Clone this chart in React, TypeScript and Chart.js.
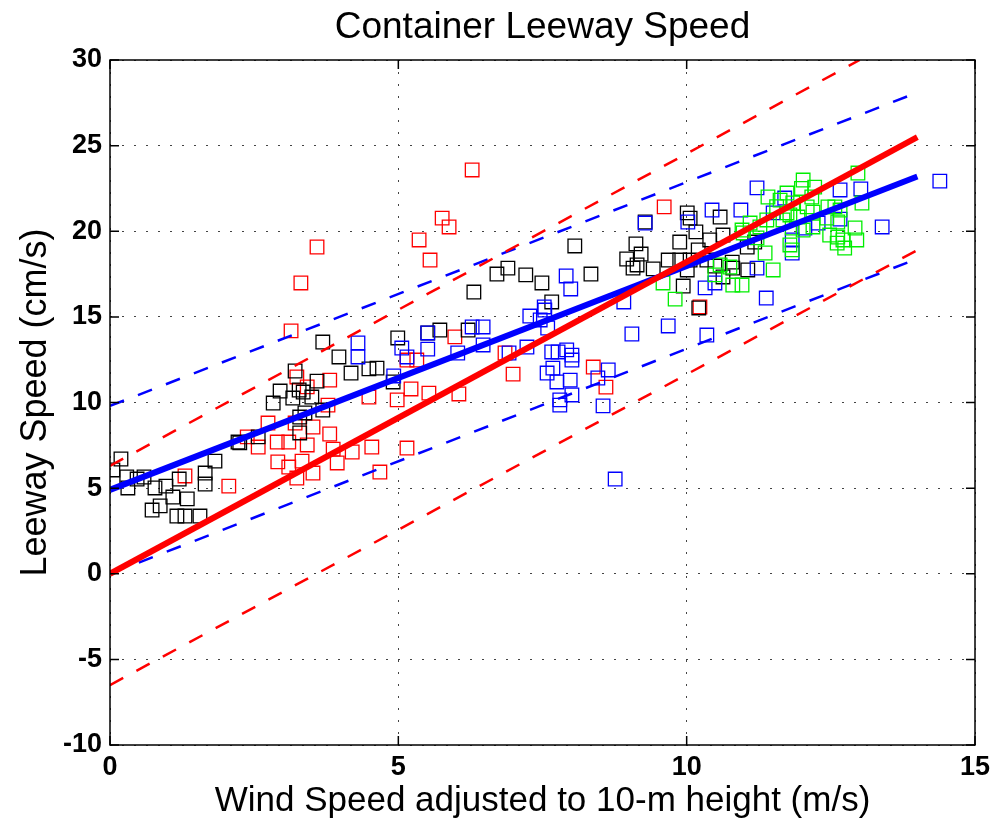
import React, { useEffect, useRef } from 'react';
import { Chart, registerables } from 'chart.js';

Chart.register(...registerables);

const chartTitle = 'Container Leeway Speed';
const xTitle = 'Wind Speed adjusted to 10-m height (m/s)';
const yTitle = 'Leeway Speed (cm/s)';

const xTickValues = [0, 5, 10, 15];
const yTickValues = [-10, -5, 0, 5, 10, 15, 20, 25, 30];

const blackPoints: [number, number][] = [
  [0.05, 6.06], [0.19, 6.7], [0.29, 5.65], [0.47, 5.53], [0.59, 5.65], [0.31, 5.01], [0.78, 5.01],
  [0.97, 5.12], [1.2, 5.53], [1.65, 5.88], [1.82, 6.58], [1.65, 5.24], [1.09, 4.48], [1.34, 4.37],
  [0.73, 3.72], [0.87, 3.96], [1.16, 3.37], [1.3, 3.37], [1.56, 3.37], [2.22, 7.69], [2.57, 7.99],
  [2.25, 7.64], [3.69, 13.53], [3.97, 12.66], [4.18, 11.72], [4.49, 11.96], [4.63, 12.01], [4.99, 13.77],
  [5.51, 14.06], [4.91, 11.2], [3.21, 11.84], [3.59, 11.25], [2.95, 10.67], [2.83, 9.97], [3.17, 10.26],
  [3.35, 10.61], [3.5, 10.32], [3.28, 10.73], [3.38, 9.39], [3.29, 9.15], [3.69, 9.56], [3.29, 8.22],
  [8.06, 19.14], [6.71, 17.5], [6.9, 17.85], [7.21, 17.45], [7.49, 16.98], [8.34, 17.5], [6.31, 16.45],
  [7.66, 15.87], [5.72, 14.23], [6.21, 14.23], [9.28, 20.54], [10.01, 21.07], [10.06, 20.77],
  [10.58, 20.83], [10.16, 19.96], [10.63, 19.78], [9.12, 19.26], [9.21, 18.67], [8.96, 18.38],
  [9.14, 18.03], [9.07, 17.85], [9.42, 17.8], [9.68, 18.32], [9.88, 19.37], [9.88, 18.32], [10.06, 18.32],
  [10.2, 18.91], [10.4, 19.49], [10.35, 18.32], [10.01, 17.74], [9.94, 16.8], [10.79, 18.2], [10.8, 17.85],
  [10.63, 17.33], [10.49, 17.97], [11.06, 17.74], [11.05, 19.08], [11.18, 19.37], [10.21, 15.52],
];

const redPoints: [number, number][] = [
  [6.28, 23.58], [5.76, 20.77], [5.88, 20.25], [5.36, 19.49], [5.55, 18.32], [3.59, 19.08], [3.31, 16.98],
  [3.14, 14.18], [3.81, 11.31], [3.24, 11.49], [3.42, 10.91], [3.78, 9.85], [4.49, 10.32], [4.98, 10.15],
  [5.22, 10.79], [5.53, 10.55], [5.15, 12.48], [5.32, 12.48], [2.74, 8.8], [3.21, 8.8], [3.52, 8.57],
  [2.38, 7.99], [2.9, 7.69], [3.1, 7.69], [3.42, 7.52], [2.57, 7.4], [3.81, 8.16], [3.87, 7.28], [4.2, 7.11],
  [4.54, 7.4], [5.15, 7.34], [3.1, 6.23], [3.33, 6.58], [3.94, 6.47], [4.68, 5.94], [3.52, 5.88], [3.24, 5.59],
  [1.3, 5.71], [2.06, 5.12], [2.91, 6.53], [5.98, 13.83], [6.85, 12.89], [6.99, 11.66], [6.05, 10.5],
  [8.38, 12.07], [8.6, 10.9], [9.61, 21.42], [10.23, 15.58],
];

const bluePoints: [number, number][] = [
  [4.3, 13.48], [4.3, 12.66], [5.06, 13.18], [5.15, 12.66], [5.51, 14.06], [5.51, 13.12], [4.92, 11.55],
  [7.91, 17.39], [7.99, 16.63], [7.53, 15.58], [7.28, 15.05], [7.46, 14.82], [7.54, 15.4], [7.59, 14.35],
  [6.47, 14.41], [6.28, 14.41], [6.47, 13.36], [6.03, 12.89], [6.92, 12.89], [7.23, 13.24], [7.66, 12.95],
  [7.77, 12.95], [7.92, 13.07], [8.01, 12.77], [8.01, 12.48], [7.58, 11.72], [7.68, 12.01], [7.75, 11.2],
  [7.98, 11.31], [8.01, 10.44], [7.8, 10.15], [7.8, 9.85], [8.64, 11.9], [8.46, 11.43], [8.55, 9.8],
  [8.76, 5.53], [9.28, 20.48], [10.02, 20.54], [10.44, 21.24], [10.94, 21.24], [11.22, 22.53], [11.7, 21.94],
  [11.22, 17.85], [10.32, 16.69], [10.49, 16.98], [11.38, 16.1], [9.68, 14.47], [9.05, 14.0], [10.35, 13.94],
  [8.91, 15.87], [11.83, 19.49], [11.83, 18.73], [11.5, 21.07], [14.39, 22.93], [12.66, 22.41], [13.02, 22.47],
  [12.66, 20.71], [12.28, 20.48], [12.05, 20.19], [13.39, 20.25],
];

const greenPoints: [number, number][] = [
  [11.74, 22.23], [11.41, 22.0], [11.56, 21.43], [11.99, 22.5], [11.79, 20.95], [11.1, 20.48], [10.96, 20.07],
  [10.98, 19.9], [11.22, 19.61], [11.36, 18.73], [11.5, 17.74], [10.75, 17.91], [10.58, 18.03], [10.49, 17.45],
  [10.8, 16.86], [10.96, 16.86], [9.59, 16.98], [9.8, 16.04], [11.83, 18.91], [11.67, 20.66], [11.39, 20.66],
  [12.02, 22.99], [12.22, 22.58], [12.97, 23.4], [12.17, 22.0], [11.84, 21.65], [12.09, 21.42], [12.19, 21.12],
  [12.45, 21.42], [12.57, 21.42], [12.66, 21.24], [12.43, 20.77], [12.62, 20.54], [12.92, 20.19], [13.04, 21.65],
  [11.83, 20.19], [12.48, 19.78], [12.62, 19.66], [12.71, 19.49], [12.74, 19.02], [12.61, 19.31], [11.79, 19.2],
  [11.93, 20.83], [11.74, 21.07], [11.27, 20.25], [12.19, 20.25], [12.02, 20.07], [11.62, 21.82], [12.95, 19.49],
];

// Fit lines (end points)
const redFitX = [0, 14];
const redFitY = [0, 25.5];
const redUpperX = [0, 13.0];
const redUpperY = [6.3, 30];
const redLowerX = [0, 14];
const redLowerY = [-6.5, 18.9];
const blueFitX = [0, 14];
const blueFitY = [4.9, 23.2];
const blueUpperX = [0, 14];
const blueUpperY = [9.8, 28.1];
const blueLowerX = [0.5, 14];
const blueLowerY = [0.65, 18.4];

const FONT = '"Liberation Sans", Arial, Helvetica, sans-serif';

const toXY = (pts: [number, number][]) => pts.map(([x, y]) => ({ x, y }));
const zipXY = (xs: number[], ys: number[]) => xs.map((x, i) => ({ x, y: ys[i] }));

const scatterSet = (label: string, pts: [number, number][], color: string, order: number) => ({
  type: 'scatter' as const,
  label,
  data: toXY(pts),
  showLine: false,
  pointStyle: 'rect' as const,
  pointRadius: 9.6,
  pointHoverRadius: 9.6,
  pointBorderWidth: 1.3,
  borderColor: color,
  backgroundColor: 'rgba(0,0,0,0)',
  pointBackgroundColor: 'rgba(0,0,0,0)',
  order,
});

const lineSet = (label: string, xs: number[], ys: number[], color: string, width: number, dash: number[], order: number) => ({
  type: 'line' as const,
  label,
  data: zipXY(xs, ys),
  showLine: true,
  borderColor: color,
  backgroundColor: color,
  borderWidth: width,
  borderDash: dash,
  pointRadius: 0,
  pointHoverRadius: 0,
  fill: false,
  tension: 0,
  order,
});

const framePlugin = {
  id: 'frameTicks',
  afterDraw(chart: any) {
    const { ctx, chartArea } = chart;
    const { left, right, top, bottom } = chartArea;
    const xs = chart.scales.x;
    const ys = chart.scales.y;
    ctx.save();
    ctx.strokeStyle = '#000';
    ctx.lineWidth = 1.5;
    ctx.setLineDash([]);
    ctx.strokeRect(left, top, right - left, bottom - top);
    const L = 9;
    ctx.beginPath();
    xs.ticks.forEach((t: any) => {
      const px = xs.getPixelForValue(t.value);
      ctx.moveTo(px, bottom);
      ctx.lineTo(px, bottom - L);
      ctx.moveTo(px, top);
      ctx.lineTo(px, top + L);
    });
    ys.ticks.forEach((t: any) => {
      const py = ys.getPixelForValue(t.value);
      ctx.moveTo(left, py);
      ctx.lineTo(left + L, py);
      ctx.moveTo(right, py);
      ctx.lineTo(right - L, py);
    });
    ctx.stroke();
    ctx.restore();
  },
};

export default function App() {
  const canvasRef = useRef<HTMLCanvasElement | null>(null);

  useEffect(() => {
    document.body.style.margin = '0';
    const canvas = canvasRef.current;
    if (!canvas) return;
    const chart = new Chart(canvas, {
      type: 'scatter',
      data: {
        datasets: [
          lineSet('Red fit', redFitX, redFitY, '#ff0000', 6, [], 0),
          lineSet('Blue fit', blueFitX, blueFitY, '#0000ff', 6, [], 1),
          lineSet('Red upper', redUpperX, redUpperY, '#ff0000', 2.5, [15, 15], 2),
          lineSet('Red lower', redLowerX, redLowerY, '#ff0000', 2.5, [15, 15], 2),
          lineSet('Blue upper', blueUpperX, blueUpperY, '#0000ff', 2.5, [15, 15], 2),
          lineSet('Blue lower', blueLowerX, blueLowerY, '#0000ff', 2.5, [15, 15], 2),
          scatterSet('Green', greenPoints, '#00ee00', 5),
          scatterSet('Blue', bluePoints, '#0000ff', 6),
          scatterSet('Black', blackPoints, '#000000', 7),
          scatterSet('Red', redPoints, '#ff0000', 8),
        ] as any,
      },
      options: {
        animation: false,
        responsive: false,
        events: [],
        layout: { padding: { left: 0, right: 22, top: 0, bottom: 0 } },
        plugins: {
          legend: { display: false },
          tooltip: { enabled: false },
          title: {
            display: true,
            fullSize: false,
            text: chartTitle,
            color: '#000',
            font: { family: FONT, size: 37, weight: 'normal' },
            padding: { top: 6, bottom: 9.6 },
          },
        },
        scales: {
          x: {
            type: 'linear',
            min: 0,
            max: 15,
            afterBuildTicks: (s: any) => { s.ticks = xTickValues.map((v) => ({ value: v })); },
            afterFit: (s: any) => { s.height = 83; },
            ticks: {
              color: '#000',
              font: { family: FONT, size: 27, weight: 'bold' },
              padding: 6,
              maxRotation: 0,
              autoSkip: false,
            },
            grid: { color: '#444', lineWidth: 1, drawTicks: false },
            border: { display: false, dash: [2, 10] },
            title: {
              display: true,
              text: xTitle,
              color: '#000',
              font: { family: FONT, size: 35, weight: 'normal' },
              padding: { top: 0, bottom: 6 },
            },
          },
          y: {
            type: 'linear',
            min: -10,
            max: 30,
            afterBuildTicks: (s: any) => { s.ticks = yTickValues.map((v) => ({ value: v })); },
            afterFit: (s: any) => { s.width = 110; },
            ticks: {
              color: '#000',
              font: { family: FONT, size: 27, weight: 'bold' },
              padding: 8,
              autoSkip: false,
            },
            grid: { color: '#444', lineWidth: 1, drawTicks: false },
            border: { display: false, dash: [2, 10] },
            title: {
              display: true,
              text: yTitle,
              color: '#000',
              font: { family: FONT, size: 36, weight: 'normal' },
              padding: { top: 14, bottom: 0 },
            },
          },
        },
      },
      plugins: [framePlugin],
    });
    return () => chart.destroy();
  }, []);

  return (
    <div style={{ width: 997, height: 828 }}>
      <canvas ref={canvasRef} width={997} height={828} style={{ display: 'block' }} />
    </div>
  );
}
